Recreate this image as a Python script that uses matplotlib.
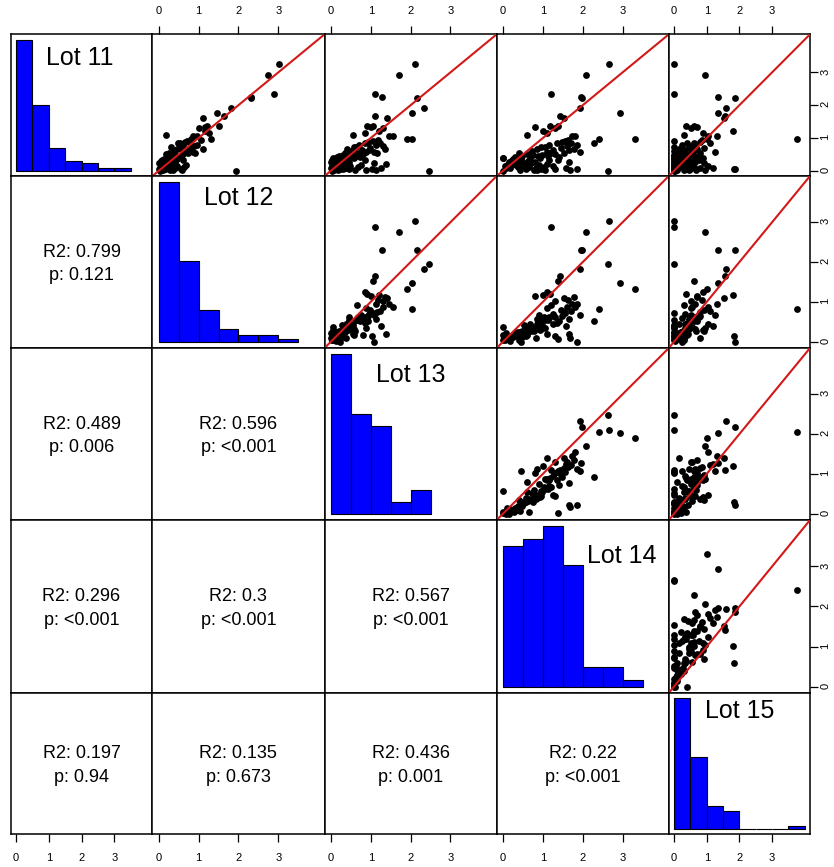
import numpy as np
import matplotlib
matplotlib.use("Agg")
import matplotlib.pyplot as plt

plt.rcParams['font.family'] = ['Liberation Sans', 'DejaVu Sans']

# variable names (diagonal labels)
lots = ["Lot 11", "Lot 12", "Lot 13", "Lot 14", "Lot 15"]

# values per lot, one entry per sample (same sample order in every list)
lot11 = [3.26, 2.92, 2.33, 2.26, 2.22, 1.90, 1.77, 0.00, 0.96, 0.96, 0.85, 1.67, 1.60, 1.37, 1.37, 1.35, 1.22, 1.30, 1.07, 1.07, 1.10, 1.15,
         0.94, 0.91, 0.88, 0.84, 0.84, 0.80, 0.79, 0.76, 0.73, 0.73, 0.70, 0.68, 0.66, 0.64, 0.62, 0.60, 0.58, 0.57, 0.55, 0.54, 0.53, 0.52, 0.51,
         0.48, 0.47, 0.46, 0.45, 0.44, 0.42, 0.41, 0.40, 0.39, 0.38, 0.37, 0.36, 0.35, 0.34, 0.33, 0.32, 0.31, 0.30, 0.29, 0.28, 0.27, 0.26,
         0.25, 0.24, 0.23, 0.22, 0.21, 0.20, 0.19, 0.18, 0.17, 0.16, 0.15, 0.14, 0.13, 0.12, 0.11, 0.10, 0.10, 0.09, 0.08, 0.07, 0.06, 0.05,
         0.05, 0.04, 0.03, 0.03, 0.02, 0.01, 0.00]
lot12 = [3.02, 2.75, 2.88, 2.31, 2.31, 1.82, 1.47, 1.94, 0.82, 1.32, 0.53, 1.64, 1.10, 1.52, 1.20, 1.15, 1.17, 1.02, 0.95, 0.87, 0.19, 1.25,
         1.05, 0.72, 0.65, 0.48, 0.78, 0.95, 0.60, 0.88, 0.55, 0.32, 0.80, 1.12, 0.45, 0.70, 0.58, 0.38, 0.66, 0.85, 0.25, 0.74, 0.92, 0.18, 0.62,
         0.42, 0.35, 0.55, 0.28, 0.40, 0.51, 0.22, 0.36, 0.18, 0.30, 0.12, 0.45, 0.25, 0.08, 0.62, 0.20, 0.38, 0.15, 0.05, 0.32, 0.10, 0.20,
         0.42, 0.00, 0.28, 0.14, 0.35, 0.20, 0.08, 0.68, 0.25, 0.12, 0.45, 0.05, 0.63, 0.18, 0.30, 0.02, 0.40, 0.10, 0.22, 0.55, 0.15, 0.00,
         0.15, 0.06, 0.28, 0.58, 0.10, 0.35, 0.04]
lot13 = [2.10, 1.70, 1.10, 1.28, 2.17, 2.34, 2.03, 2.47, 2.04, 1.90, 0.93, 1.10, 1.41, 1.06, 0.90, 1.01, 1.20, 1.30, 1.45, 1.55, 0.55, 0.85,
         1.18, 1.05, 0.92, 0.85, 1.22, 1.12, 0.70, 1.30, 0.62, 0.58, 0.97, 1.35, 0.40, 0.95, 0.78, 0.51, 1.08, 0.88, 0.35, 1.15, 0.66, 0.80, 0.45,
         0.55, 0.30, 0.62, 0.20, 0.48, 0.72, 0.15, 0.05, 0.58, 0.42, 0.10, 0.38, 0.25, 0.02, 0.85, 0.12, 0.33, 0.08, 0.18, 0.45, 0.00, 0.22,
         0.28, 1.08, 0.35, 0.05, 0.40, 1.39, 0.15, 0.75, 0.10, 0.30, 0.48, 0.02, 0.68, 0.20, 0.05, 0.12, 1.25, 0.38, 0.00, 0.45, 1.02, 0.22,
         0.30, 0.08, 0.60, 1.12, 0.18, 0.88, 0.02]
lot14 = [2.67, 2.07, 1.20, 1.95, 1.97, 1.93, 2.93, 2.64, 2.40, 3.30, 2.28, 1.42, 1.52, 1.38, 1.19, 0.81, 1.01, 1.30, 1.74, 1.80, 0.60, 1.10,
         1.62, 1.55, 1.48, 1.35, 1.70, 1.85, 1.15, 1.60, 1.05, 0.95, 1.45, 1.78, 0.85, 1.25, 1.66, 0.72, 1.92, 1.10, 0.40, 1.52, 1.20, 0.60, 1.30,
         0.98, 0.75, 1.12, 0.47, 0.88, 1.40, 0.30, 0.00, 0.00, 0.92, 0.25, 0.68, 0.46, 1.37, 1.15, 0.35, 0.62, 0.20, 0.40, 0.80, 0.15, 1.65,
         0.52, 0.45, 0.70, 0.28, 0.58, 1.10, 0.10, 0.90, 0.32, 0.48, 1.25, 0.05, 1.02, 0.38, 0.65, 0.18, 1.58, 0.82, 0.08, 0.95, 1.30, 1.86,
         0.58, 0.42, 0.78, 0.85, 1.68, 1.05, 0.00]
lot15 = [0.00, 0.95, 0.00, 1.36, 1.87, 1.60, 1.35, 0.00, 3.77, 1.01, 0.62, 1.55, 1.52, 0.60, 0.36, 0.70, 1.80, 0.52, 1.30, 1.05, 0.30, 0.90,
         0.85, 0.00, 0.78, 0.40, 1.10, 0.65, 0.25, 0.55, 0.00, 0.45, 0.92, 0.70, 0.15, 0.35, 0.60, 0.00, 1.25, 0.52, 0.20, 0.80, 0.30, 0.10, 0.58,
         0.45, 0.00, 0.62, 0.28, 0.00, 0.70, 0.12, 0.00, 0.40, 0.88, 0.05, 0.35, 0.00, 0.20, 0.75, 0.18, 0.55, 0.00, 0.30, 0.65, 0.10, 0.42,
         0.00, 0.25, 0.92, 0.08, 0.33, 0.15, 0.00, 0.52, 0.22, 0.06, 1.05, 0.00, 0.60, 0.14, 0.38, 0.02, 1.20, 0.80, 0.00, 0.48, 0.00, 1.86,
         1.84, 0.10, 0.68, 0.45, 0.30, 0.95, 0.04]

# lower-panel statistics, (row, col) -> (R2, p)
r2_values = {(1, 0): "0.799", (2, 0): "0.489", (2, 1): "0.596",
             (3, 0): "0.296", (3, 1): "0.3", (3, 2): "0.567",
             (4, 0): "0.197", (4, 1): "0.135", (4, 2): "0.436", (4, 3): "0.22"}
p_values = {(1, 0): "0.121", (2, 0): "0.006", (2, 1): "<0.001",
            (3, 0): "<0.001", (3, 1): "<0.001", (3, 2): "<0.001",
            (4, 0): "0.94", (4, 1): "0.673", (4, 2): "0.001", (4, 3): "<0.001"}

tick_values = [0, 1, 2, 3]

data = [np.array(v) for v in (lot11, lot12, lot13, lot14, lot15)]
n = len(data)
lim = (-0.16, 4.16)

# where the diagonal label sits inside its panel (axes fraction, baseline)
label_pos = [(0.49, 0.783), (0.5, 0.831), (0.5, 0.804), (0.727, 0.750), (0.5, 0.821)]

fig = plt.figure(figsize=(8.34, 8.67), dpi=100)
gs = fig.add_gridspec(n, n, width_ratios=[0.823, 1, 1, 1, 0.82],
                      height_ratios=[0.824, 1, 1, 1.005, 0.82],
                      left=0.0128, right=0.9712, top=0.9604, bottom=0.0381,
                      wspace=0, hspace=0)

for i in range(n):
    for j in range(n):
        ax = fig.add_subplot(gs[i, j])
        ax.set_xlim(lim)
        ax.set_ylim(lim)
        for s in ax.spines.values():
            s.set_linewidth(1.1)
        ax.tick_params(length=6, width=0.9, labelsize=8, pad=7)
        ax.set_xticks([])
        ax.set_yticks([])

        if i == j:
            vals = data[i]
            top = np.ceil(vals.max() / 0.5) * 0.5
            edges = np.arange(0, top + 0.01, 0.5)
            counts, edges = np.histogram(vals, bins=edges)
            heights = counts / counts.max() * 4.0
            ax.bar(edges[:-1], heights, width=0.5, align='edge',
                   color='#0000ff', edgecolor='black', linewidth=0.8)
            lx, ly = label_pos[i]
            ax.text(lx, ly, lots[i], transform=ax.transAxes, ha='center',
                    va='baseline', fontsize=18)
        elif i < j:
            # x = column variable, y = row variable
            ax.scatter(data[j], data[i], s=24, color='black', linewidths=0, zorder=3)
            ax.plot(lim, lim, color='#d41818', linewidth=1.5, zorder=4)
        else:
            ax.annotate("R2: " + r2_values[(i, j)], xy=(0.5, 0.5), xycoords='axes fraction',
                        xytext=(0, 3.7), textcoords='offset points',
                        ha='center', va='baseline', fontsize=13)
            ax.annotate("p: " + p_values[(i, j)], xy=(0.5, 0.5), xycoords='axes fraction',
                        xytext=(0, -13.1), textcoords='offset points',
                        ha='center', va='baseline', fontsize=13)

        # outer axes: top for columns 2-5, bottom for all, right for rows 1-4
        if i == 0 and j > 0:
            ax.set_xticks(tick_values)
            ax.tick_params(axis='x', top=True, labeltop=True, bottom=False, labelbottom=False)
        if i == n - 1:
            ax.set_xticks(tick_values)
            ax.tick_params(axis='x', bottom=True, labelbottom=True, pad=8)
        if j == n - 1 and i < n - 1:
            ax.set_yticks(tick_values)
            ax.tick_params(axis='y', right=True, labelright=True, left=False, labelleft=False,
                           labelrotation=90, pad=1.5)

fig.savefig("out.png", dpi=100)
